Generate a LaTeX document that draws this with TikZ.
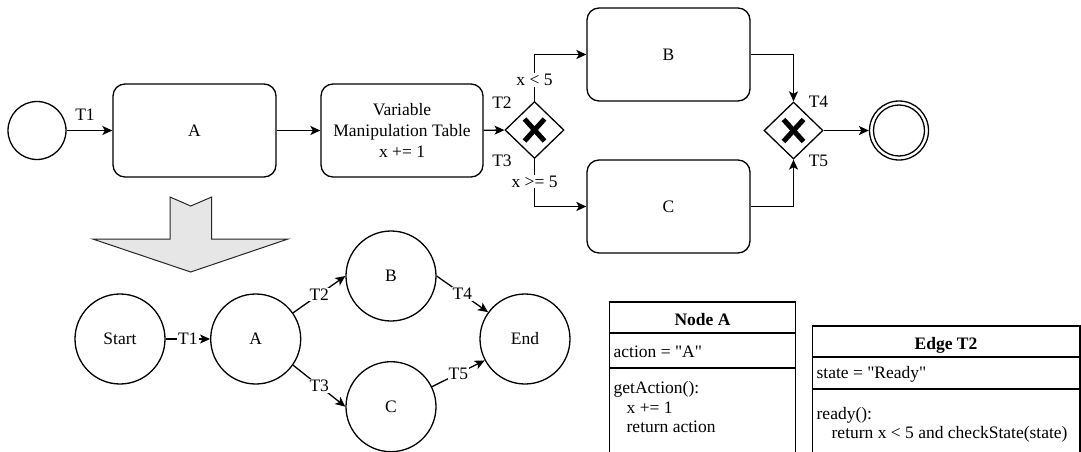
\documentclass[tikz,border=0pt]{standalone}
\usepackage{fontspec}
\setmainfont{Liberation Serif}
\newfontfamily\plainserif{Liberation Serif}[Ligatures=ResetAll]
\usetikzlibrary{arrows.meta,shapes.geometric,calc}
\definecolor{arrowfill}{RGB}{230,230,230}
\begin{document}
\begin{tikzpicture}[x=1pt,y=-1pt,
  font=\plainserif\fontsize{17.5}{21}\selectfont,
  line width=1.3pt,
  arr/.style={-{Stealth[length=10pt,width=9pt,inset=2.5pt]}},
  task/.style={draw, rounded corners=12pt, minimum width=163pt, minimum height=93pt, inner sep=0pt, align=center},
  evt/.style={draw, circle, minimum size=58pt, inner sep=0pt},
  gw/.style={draw, diamond, minimum width=59pt, minimum height=57pt, inner sep=0pt},
  st/.style={draw, circle, minimum size=90pt, inner sep=0pt},
  lbl/.style={fill=white, inner sep=1pt},
  txt/.style={inner sep=0pt},
  ltxt/.style={inner sep=0pt, anchor=west},
  xmark/.style={line width=5pt},
]
\useasboundingbox (0,0) rectangle (1081,452);
\clip (0,0) rectangle (1081,452);

% ---------- upper BPMN process ----------
\node[evt] (s) at (37,130.5) {};
\node[task] (a) at (194.5,130.5) {A};
\node[task, minimum width=162pt] (vmt) at (402,130.5) {Variable\\Manipulation Table\\x += 1};
\node[gw] (g1) at (534.5,130) {};
\node[task] (b) at (668.5,54.5) {B};
\node[task] (c) at (668.5,206.5) {C};
\node[gw] (g2) at (793.5,130.5) {};
\node[evt, minimum size=59pt] (e) at (899,130.5) {};
\draw (e.center) circle (25.5);

\draw[xmark] ($(g1)+(-10,-11)$) -- ($(g1)+(10,11)$);
\draw[xmark] ($(g1)+(10,-11)$) -- ($(g1)+(-10,11)$);
\draw[xmark] ($(g2)+(-10,-11)$) -- ($(g2)+(10,11)$);
\draw[xmark] ($(g2)+(10,-11)$) -- ($(g2)+(-10,11)$);

\draw[arr] (s) -- (a);
\draw[arr] (a) -- (vmt);
\draw[arr] (vmt) -- (g1);
\draw[arr] (g1.north) |- (b.west);
\draw[arr] (g1.south) |- (c.west);
\draw[arr] (b.east) -| (g2.north);
\draw[arr] (c.east) -| (g2.south);
\draw[arr] (g2) -- (e);

\node[txt] (t1u) at (85,115) {T1};
\node[txt] (t2u) at (502,103) {T2};
\node[txt] (t3u) at (502,161) {T3};
\node[lbl] (xl5) at (534.5,80) {x < 5};
\node[lbl] (xg5) at (534.5,181.5) {x >= 5};
\node[txt] (t4u) at (818.5,102) {T4};
\node[txt] (t5u) at (818.5,160.5) {T5};

% ---------- big grey arrow ----------
\draw[fill=arrowfill, draw=black!85, line width=1pt]
  (170,197) -- (190.7,206) -- (211.7,197) -- (211.7,239) -- (288,239)
  -- (190.7,272) -- (92.7,239) -- (170,239) -- cycle;

% ---------- lower state graph ----------
\node[st] (S) at (120,339) {Start};
\node[st] (LA) at (255.7,339) {A};
\node[st] (LB) at (391,276) {B};
\node[st] (LC) at (391,406.7) {C};
\node[st] (LE) at (525,339) {End};

\draw[arr] (S) -- node[lbl] {T1} (LA);
\draw[arr] (LA.35) -- node[lbl] {T2} (LB.west);
\draw[arr] (LA.-35) -- node[lbl] {T3} (LC.west);
\draw[arr] (LB.east) -- node[lbl] {T4} (LE.144);
\draw[arr] (LC.26) -- node[lbl] {T5} (LE.-152);

% ---------- Node A table ----------
\draw (609.5,470) -- (609.5,302) -- (795.5,302) -- (795.5,470);
\draw (609.5,333) -- (795.5,333);
\draw (609.5,368) -- (795.5,368);
\node[txt, font=\plainserif\fontsize{17.5}{21}\selectfont\bfseries] (nat) at (702.5,320) {Node A};
\node[ltxt] (naa) at (613,352) {action = "A"};
\node[ltxt] (nam1) at (613,389) {getAction():};
\node[ltxt] (nam2) at (626,408) {x += 1};
\node[ltxt] (nam3) at (626,427) {return action};

% ---------- Edge T2 table ----------
\draw (812.5,470) -- (812.5,326) -- (1080,326) -- (1080,470);
\draw (812.5,357) -- (1080,357);
\draw (812.5,389) -- (1080,389);
\node[txt, font=\plainserif\fontsize{17.5}{21}\selectfont\bfseries] (et) at (946,345) {Edge T2};
\node[ltxt] (eta) at (816,374) {state = "Ready"};
\node[ltxt] (etm1) at (816,415) {ready():};
\node[ltxt] (etm2) at (831,434) {return x < 5 and checkState(state)};
\end{tikzpicture}
\end{document}
